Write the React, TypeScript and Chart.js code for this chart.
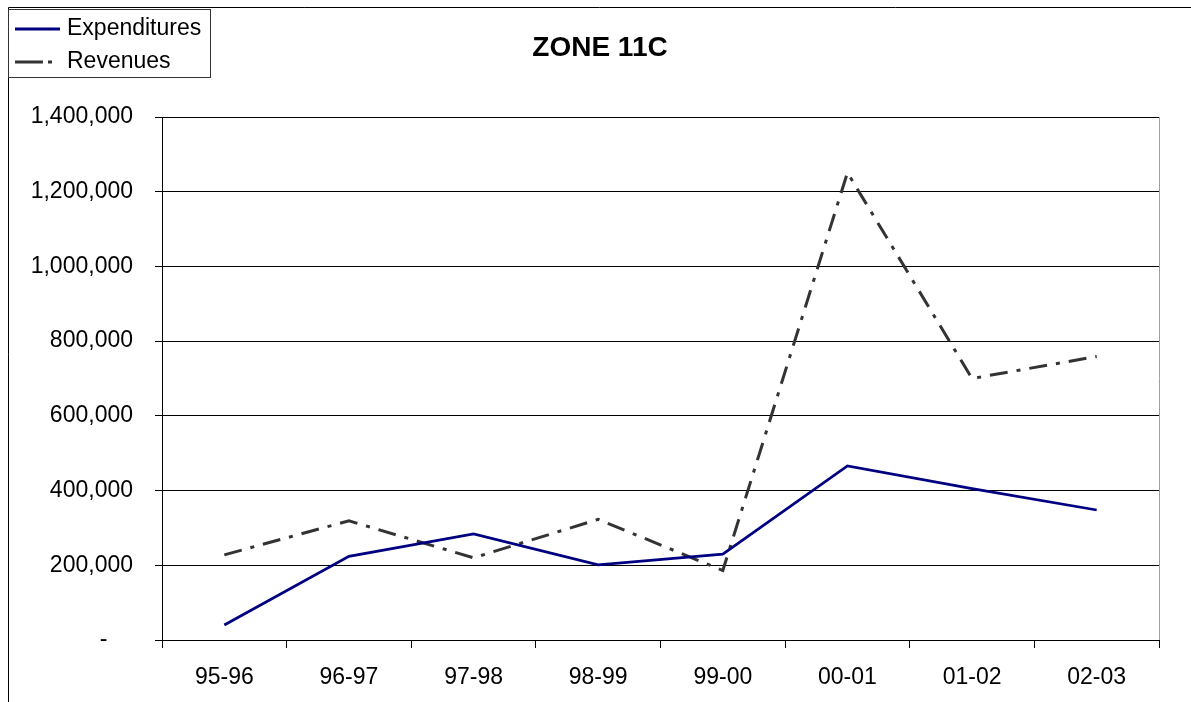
import React, { useEffect, useRef } from 'react';
import { Chart, registerables } from 'chart.js';

Chart.register(...registerables);

// Fiscal years on the category axis
const seasons = ['95-96', '96-97', '97-98', '98-99', '99-00', '00-01', '01-02', '02-03'];

// Yearly totals for zone 11C
const expenditures = [40000, 224000, 284000, 201000, 230000, 466000, 405000, 348000];
const revenues = [228000, 319000, 220000, 323000, 186000, 1251000, 700000, 759000];

// Value axis range
const yMin = 0;
const yMax = 1400000;
const yStep = 200000;

const chartTitle = 'ZONE 11C';
const FONT = '"Liberation Sans", Arial, sans-serif';

const W = 1191;
const H = 702;

const revenueDash = [18, 9, 4, 9];

const decorations = {
  id: 'zoneDecorations',
  afterDraw(chart: Chart) {
    const ctx = chart.ctx;
    const area = chart.chartArea;
    ctx.save();

    // right edge of the plot area
    ctx.strokeStyle = '#a0a0a0';
    ctx.lineWidth = 1;
    ctx.setLineDash([]);
    ctx.beginPath();
    ctx.moveTo(Math.round(area.right) + 0.5, area.top);
    ctx.lineTo(Math.round(area.right) + 0.5, area.bottom);
    ctx.stroke();

    // outer chart frame (left and top edges)
    ctx.strokeStyle = '#000';
    ctx.beginPath();
    ctx.moveTo(8.5, H);
    ctx.lineTo(8.5, 7.5);
    ctx.lineTo(W, 7.5);
    ctx.stroke();

    // title
    ctx.fillStyle = '#000';
    ctx.font = `bold 28px ${FONT}`;
    ctx.textAlign = 'center';
    ctx.textBaseline = 'middle';
    ctx.fillText(chartTitle, 600, 48);

    // legend box
    ctx.fillStyle = '#fff';
    ctx.fillRect(9, 10, 201, 67);
    ctx.strokeStyle = '#333';
    ctx.lineWidth = 1;
    ctx.strokeRect(8.5, 9.5, 202, 68);

    const ds = chart.data.datasets;
    ctx.font = `23px ${FONT}`;
    ctx.textAlign = 'left';
    ctx.textBaseline = 'middle';

    // first entry: solid line
    ctx.strokeStyle = ds[0].borderColor as string;
    ctx.lineWidth = 3;
    ctx.lineCap = 'butt';
    ctx.beginPath();
    ctx.moveTo(15, 29);
    ctx.lineTo(60, 29);
    ctx.stroke();
    ctx.fillStyle = '#000';
    ctx.fillText(ds[0].label as string, 67, 29);

    // second entry: dash-dot line
    ctx.strokeStyle = ds[1].borderColor as string;
    ctx.setLineDash([28, 5, 4, 20]);
    ctx.beginPath();
    ctx.moveTo(15, 62);
    ctx.lineTo(60, 62);
    ctx.stroke();
    ctx.setLineDash([]);
    ctx.fillText(ds[1].label as string, 67, 62);

    ctx.restore();
  },
};

export default function App() {
  const canvasRef = useRef<HTMLCanvasElement | null>(null);

  useEffect(() => {
    const canvas = canvasRef.current;
    if (!canvas) return;
    const chart = new Chart(canvas, {
      type: 'line',
      data: {
        labels: seasons,
        datasets: [
          {
            label: 'Expenditures',
            data: expenditures,
            borderColor: '#000080',
            borderWidth: 2.75,
            pointRadius: 0,
            tension: 0,
            fill: false,
          },
          {
            label: 'Revenues',
            data: revenues,
            borderColor: '#333333',
            borderWidth: 3,
            borderDash: revenueDash,
            borderCapStyle: 'butt',
            pointRadius: 0,
            tension: 0,
            fill: false,
          },
        ],
      },
      options: {
        responsive: false,
        animation: false,
        devicePixelRatio: 1,
        layout: { padding: { left: 0, top: 117, right: 32, bottom: 0 } },
        plugins: {
          legend: { display: false },
          title: { display: false },
          tooltip: { enabled: false },
        },
        scales: {
          x: {
            type: 'category',
            offset: true,
            grid: {
              display: true,
              offset: true,
              drawOnChartArea: false,
              drawTicks: true,
              tickLength: 8,
              color: '#000',
              lineWidth: 1,
            },
            border: { display: true, color: '#000', width: 1 },
            ticks: {
              color: '#000',
              font: { family: FONT, size: 23 },
              padding: 16,
              maxRotation: 0,
              autoSkip: false,
            },
            afterFit(scale: any) {
              scale.height = 62;
            },
          },
          y: {
            min: yMin,
            max: yMax,
            grid: {
              color: '#000',
              lineWidth: 1,
              drawTicks: true,
              tickLength: 7,
            },
            border: { display: true, color: '#000', width: 1 },
            ticks: {
              stepSize: yStep,
              color: '#000',
              font: { family: FONT, size: 23 },
              padding: 22,
              callback: (v: any) =>
                Number(v) === 0 ? '-    ' : Number(v).toLocaleString('en-US'),
            },
            afterFit(scale: any) {
              scale.width = 162;
            },
          },
        },
      },
      plugins: [decorations],
    });
    return () => chart.destroy();
  }, []);

  return (
    <div style={{ position: 'absolute', left: 0, top: 0, width: W, height: H, background: '#fff' }}>
      <canvas ref={canvasRef} width={W} height={H} style={{ display: 'block' }} />
    </div>
  );
}
